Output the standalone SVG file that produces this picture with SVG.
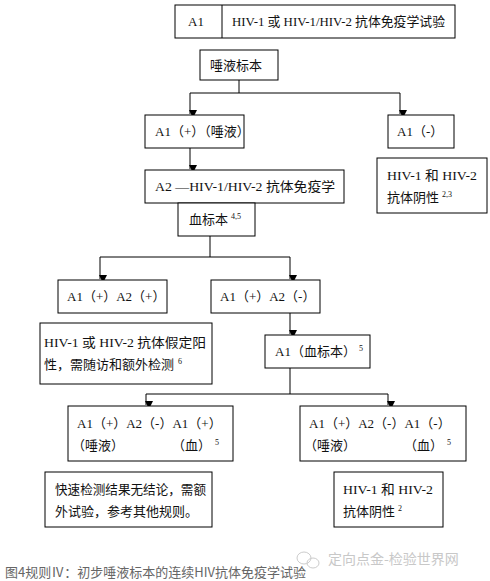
<svg xmlns="http://www.w3.org/2000/svg" width="490" height="581" viewBox="0 0 490 581">
<style>
.b{fill:#fff;stroke:#000;stroke-width:1}
.t{font-family:"Liberation Serif","Noto Sans CJK SC",serif;font-size:13px;fill:#111}
.s{font-size:8px}
.c{fill:none;stroke:#000;stroke-width:1}
</style>
<defs>
<marker id="ah" markerWidth="8" markerHeight="8" refX="4" refY="7" orient="auto" markerUnits="userSpaceOnUse" viewBox="0 0 8 8">
<path d="M0,0 L8,0 L4,8 Z" fill="#000" transform="rotate(-90 4 4)"/>
</marker>
</defs>
<rect width="490" height="581" fill="#fff"/>
<g id="connectors">
<path class="c" d="M239,80 V93 M190,93 H400"/>
<path class="c" d="M190,93 V114" marker-end="url(#ah)"/>
<path class="c" d="M400,93 V114" marker-end="url(#ah)"/>
<path class="c" d="M190,148 V169" marker-end="url(#ah)"/>
<path class="c" d="M210,236 V257 M100,257 H290"/>
<path class="c" d="M100,257 V279" marker-end="url(#ah)"/>
<path class="c" d="M290,257 V279" marker-end="url(#ah)"/>
<path class="c" d="M290,313 V334" marker-end="url(#ah)"/>
<path class="c" d="M290,368 V394 M146,394 H388"/>
<path class="c" d="M146,394 V405" marker-end="url(#ah)"/>
<path class="c" d="M388,394 V405" marker-end="url(#ah)"/>
</g>
<g id="n-top">
<rect class="b" x="175" y="5" width="280" height="33"/>
<line class="c" x1="222" y1="5" x2="222" y2="38"/>
<text class="t" x="188" y="26">A1</text>
<text class="t" x="232" y="26" textLength="213" lengthAdjust="spacingAndGlyphs">HIV-1 或 HIV-1/HIV-2 抗体免疫学试验</text>
</g>
<g id="n-saliva">
<rect class="b" x="200" y="50" width="78" height="30"/>
<text class="t" x="210" y="70">唾液标本</text>
</g>
<g id="n-a1pos">
<rect class="b" x="145" y="115" width="99" height="33"/>
<text class="t" x="155" y="136">A1（+）（唾液）</text>
</g>
<g id="n-a1neg">
<rect class="b" x="388" y="115" width="66" height="33"/>
<text class="t" x="397" y="136">A1（-）</text>
</g>
<g id="n-neg1">
<rect class="b" x="377" y="158" width="110" height="55"/>
<text class="t" x="387" y="180" textLength="90" lengthAdjust="spacingAndGlyphs">HIV-1  和  HIV-2</text>
<text class="t" x="387" y="202">抗体阴性<tspan class="s" dx="3" dy="-5">2,3</tspan></text>
</g>
<g id="n-a2">
<rect class="b" x="145" y="170" width="199" height="33"/>
<text class="t" x="155" y="191" textLength="180" lengthAdjust="spacingAndGlyphs">A2  —HIV-1/HIV-2  抗体免疫学</text>
<rect class="b" x="178" y="203" width="77" height="33"/>
<text class="t" x="189" y="224">血标本<tspan class="s" dx="3" dy="-5">4,5</tspan></text>
</g>
<g id="n-pp">
<rect class="b" x="58" y="280" width="109" height="33"/>
<text class="t" x="67" y="301">A1（+）A2（+）</text>
</g>
<g id="n-pn">
<rect class="b" x="211" y="280" width="109" height="33"/>
<text class="t" x="220" y="301">A1（+）A2（-）</text>
</g>
<g id="n-presumed">
<rect class="b" x="40" y="323" width="172" height="61"/>
<text class="t" x="44" y="347" textLength="162" lengthAdjust="spacingAndGlyphs">HIV-1  或  HIV-2  抗体假定阳</text>
<text class="t" x="44" y="369">性，需随访和额外检测<tspan class="s" dx="4" dy="-5">6</tspan></text>
</g>
<g id="n-blood">
<rect class="b" x="265" y="335" width="105" height="33"/>
<text class="t" x="275" y="356">A1（血标本）<tspan class="s" dx="3" dy="-5">5</tspan></text>
</g>
<g id="n-ppp">
<rect class="b" x="68" y="406" width="165" height="55"/>
<text class="t" x="77" y="428">A1（+）A2（-）A1（+）</text>
<text class="t" x="72" y="450">（唾液）</text>
<text class="t" x="172" y="450">（血）<tspan class="s" dx="4" dy="-5">5</tspan></text>
</g>
<g id="n-ppn">
<rect class="b" x="300" y="406" width="166" height="55"/>
<text class="t" x="309" y="428">A1（+）A2（-）A1（-）</text>
<text class="t" x="304" y="450">（唾液）</text>
<text class="t" x="404" y="450">（血）<tspan class="s" dx="4" dy="-5">5</tspan></text>
</g>
<g id="n-inconclusive">
<rect class="b" x="45" y="472" width="167" height="55"/>
<text class="t" x="55" y="494" textLength="151" lengthAdjust="spacingAndGlyphs">快速检测结果无结论，需额</text>
<text class="t" x="55" y="516">外试验，参考其他规则。</text>
</g>
<g id="n-neg2">
<rect class="b" x="334" y="472" width="109" height="55"/>
<text class="t" x="343" y="494" textLength="90" lengthAdjust="spacingAndGlyphs">HIV-1  和  HIV-2</text>
<text class="t" x="343" y="516">抗体阴性<tspan class="s" dx="3" dy="-5">2</tspan></text>
</g>
<g id="caption">
<g fill="none" stroke="#ccc" stroke-width="1">
<ellipse cx="304" cy="558" rx="7" ry="6"/>
<ellipse cx="313" cy="563" rx="6" ry="5"/>
</g>
<text x="328" y="564" font-family="'Noto Sans CJK SC',sans-serif" font-size="14" fill="#c8c8c8">定向点金-检验世界网</text>
<text x="5" y="577" font-family="'Noto Sans CJK SC',sans-serif" font-size="13" fill="#666">图4规则Ⅳ：初步唾液标本的连续HIV抗体免疫学试验</text>
</g>
</svg>
